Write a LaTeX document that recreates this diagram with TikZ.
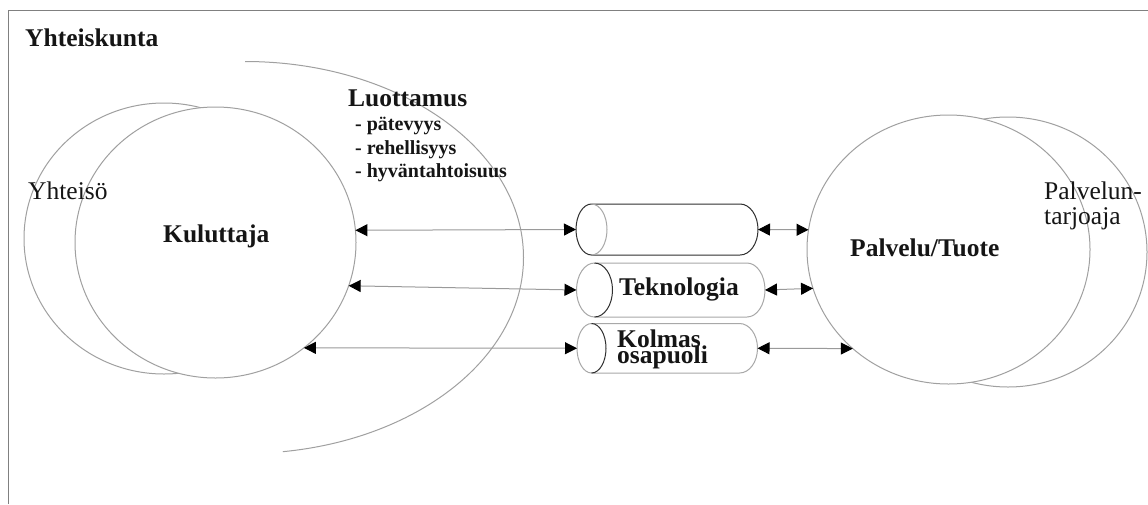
\documentclass[tikz,border=0pt]{standalone}
\usepackage{fontspec}
\setmainfont{Liberation Serif}
\usetikzlibrary{shapes.geometric,arrows.meta}
\definecolor{ringgray}{HTML}{A0A0A0}
\definecolor{framegray}{HTML}{808080}
\definecolor{linegray}{HTML}{9A9A9A}
\definecolor{darkedge}{HTML}{303030}
\definecolor{lightedge}{HTML}{A8A8A8}
\definecolor{txt}{HTML}{151515}
\tikzset{
  ring/.style={ellipse, draw=ringgray, line width=1pt, inner sep=0pt, outer sep=0pt},
  cylbox/.style={rectangle, inner sep=0pt, outer sep=0pt},
  bigtxt/.style={anchor=base west, inner sep=0pt, text=txt, font=\fontsize{25.5}{25}\selectfont\bfseries},
  smalltxt/.style={anchor=base west, inner sep=0pt, text=txt, font=\fontsize{20}{20}\selectfont\bfseries},
  plaintxt/.style={anchor=base west, inner sep=0pt, text=txt, font=\fontsize{25.5}{25}\selectfont},
  dbl/.style={draw=linegray, line width=1pt, {Triangle[length=12pt,width=12pt,color=black]}-{Triangle[length=12pt,width=12pt,color=black]}},
}
% #1 name, #2 L, #3 R, #4 T, #5 B, #6 left ellipse x radius, #7 outer colour, #8 inner colour
\newcommand\mkcyl[8]{%
  \node[cylbox, minimum width={(#3-#2)*1pt}, minimum height={(#5-#4)*1pt}] (#1) at ({(#2+#3)/2},{(#4+#5)/2}) {};
  \draw[#7, line width=1pt] ([xshift=#6pt]#1.north west) -- ([xshift=-18pt]#1.north east)
     arc[start angle=-90, end angle=90, x radius=18, y radius={(#5-#4)/2}]
     -- ([xshift=#6pt]#1.south west)
     arc[start angle=90, end angle=270, x radius=#6, y radius={(#5-#4)/2}] -- cycle;
  \draw[#8, line width=1pt] ([xshift=#6pt]#1.north west)
     arc[start angle=-90, end angle=90, x radius=#6, y radius={(#5-#4)/2}];
}
\begin{document}
\begin{tikzpicture}[x=1pt, y=-1pt]
\useasboundingbox (0,0) rectangle (1148,504);
\fill[white] (0,0) rectangle (1148,504);
% frame
\draw[framegray, line width=1.5pt] (8.5,504) -- (8.5,10.5) -- (1148,10.5);
\node[bigtxt] (society) at (25,46.5) {Yhteiskunta};

% left circles
\node[ring, minimum width=280pt, minimum height=271pt] (yht) at (164,238.5) {};
\node[ring, fill=white, minimum width=281pt, minimum height=271pt] (kul) at (215.5,242.5) {};
\node[plaintxt] (yhtlbl) at (28,199.5) {Yhteisö};
\node[bigtxt] (kullbl) at (163,242) {Kuluttaja};

% trust arc
\draw[ringgray, line width=1pt] (245,61.5) arc[start angle=-90, end angle=82.2, x radius=278.5, y radius=196];
\node[bigtxt] (trust) at (348,106.5) {Luottamus};
\node[smalltxt] (t1) at (355,130.5) {- pätevyys};
\node[smalltxt] (t2) at (355,154) {- rehellisyys};
\node[smalltxt] (t3) at (355,177) {- hyväntahtoisuus};

% right circles
\node[ring, minimum width=278pt, minimum height=270pt] (ptar) at (1008,252) {};
\node[ring, fill=white, minimum width=283pt, minimum height=269pt] (pal) at (948.5,249.5) {};
\node[bigtxt] (pallbl) at (850,256) {Palvelu/Tuote};
\node[plaintxt] (ptar1) at (1044,199) {Palvelun-};
\node[plaintxt] (ptar2) at (1044,224.5) {tarjoaja};

% cylinders
\mkcyl{c1}{576}{758}{204}{255}{15.5}{darkedge}{lightedge}
\mkcyl{c2}{576.5}{765}{263}{317}{18}{lightedge}{darkedge}
\mkcyl{c3}{577}{757.5}{323.5}{373}{14.5}{lightedge}{darkedge}
\node[bigtxt] (tek) at (619,295) {Teknologia};
\node[bigtxt] (kol1) at (617,347.5) {Kolmas};
\node[bigtxt] (kol2) at (617,363) {osapuoli};

% connectors
\draw[dbl] (kul.5.9) -- (c1.west);
\draw[dbl] (kul.-18.1) -- (c2.west);
\draw[dbl] (kul.-50.1) -- (c3.west);
\draw[dbl] (c1.east) -- (pal.172);
\draw[dbl] (c2.east) -- (pal.196.7);
\draw[dbl] (c3.east) -- (pal.226.3);
\end{tikzpicture}
\end{document}
